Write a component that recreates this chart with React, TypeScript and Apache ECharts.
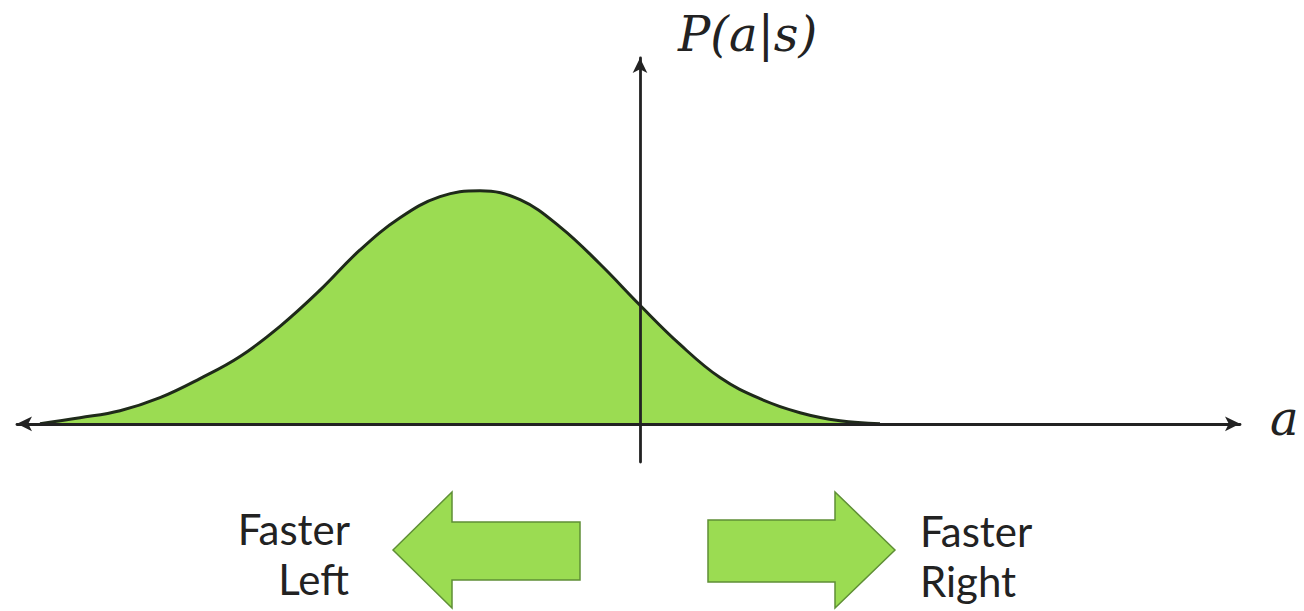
import React, { useEffect, useRef } from "react";
import * as echarts from "echarts";

// Action value a (right is positive) and the policy density P(a|s)
const actionValues = [
  -6.0, -5.6, -5.2, -4.8, -4.4, -4.0, -3.6, -3.2, -2.8, -2.4, -2.0, -1.6, -1.2,
  -0.8, -0.4, 0.0, 0.4, 0.8, 1.2, 1.6, 2.0, 2.4,
];
const densityValues = [
  0.0, 0.06, 0.13, 0.26, 0.45, 0.67, 0.97, 1.33, 1.73, 2.05, 2.26, 2.32, 2.23,
  1.96, 1.59, 1.18, 0.79, 0.46, 0.25, 0.11, 0.03, 0.0,
];

const axisRange = { aMin: -6.23, aMax: 6.0, pMin: -0.38, pMax: 3.64 };
const yAxisTitle = "P(a|s)";
const xAxisTitle = "a";
const leftCaption = ["Faster", "Left"];
const rightCaption = ["Faster", "Right"];

const GREEN = "#9bdc52";
const GREEN_EDGE = "#5f8f36";
const INK = "#222222";

export default function App() {
  const ref = useRef<HTMLDivElement>(null);

  useEffect(() => {
    if (!ref.current) return;
    const chart = echarts.init(ref.current, undefined, { renderer: "svg" });

    const curve = actionValues.map((a, i) => [a, densityValues[i]]);
    const captionFont = "42px Lato, 'Open Sans', sans-serif";
    const mathFont = "italic 48px 'DejaVu Serif', 'Liberation Serif', serif";

    chart.setOption({
      animation: false,
      backgroundColor: "#ffffff",
      grid: { left: 17, right: 64, top: 58, bottom: 149, containLabel: false },
      xAxis: {
        type: "value",
        min: axisRange.aMin,
        max: axisRange.aMax,
        z: 5,
        axisLine: {
          onZero: true,
          symbol: ["arrow", "arrow"],
          symbolSize: [11, 15],
          lineStyle: { color: INK, width: 2.8 },
        },
        axisTick: { show: false },
        axisLabel: { show: false },
        splitLine: { show: false },
      },
      yAxis: {
        type: "value",
        min: axisRange.pMin,
        max: axisRange.pMax,
        z: 5,
        axisLine: {
          show: true,
          onZero: true,
          symbol: ["none", "arrow"],
          symbolSize: [11, 15],
          lineStyle: { color: INK, width: 2.8 },
        },
        axisTick: { show: false },
        axisLabel: { show: false },
        splitLine: { show: false },
      },
      series: [
        {
          type: "line",
          data: curve,
          smooth: 0.4,
          showSymbol: false,
          z: 2,
          lineStyle: { color: "#1f2a1a", width: 3 },
          areaStyle: { color: GREEN, opacity: 1, origin: "auto" },
        },
      ],
      graphic: [
        {
          type: "text",
          style: { text: yAxisTitle, x: 678, y: 34, font: mathFont, fill: INK, textVerticalAlign: "middle" },
        },
        {
          type: "text",
          style: { text: xAxisTitle, x: 1270, y: 418, font: mathFont, fill: INK, textVerticalAlign: "middle" },
        },
        {
          type: "polygon",
          shape: {
            points: [
              [393, 550], [452, 492], [452, 522], [580, 522],
              [580, 580], [452, 580], [452, 608],
            ],
          },
          style: { fill: GREEN, stroke: GREEN_EDGE, lineWidth: 1.5 },
        },
        {
          type: "polygon",
          shape: {
            points: [
              [895, 550], [835, 492], [835, 520], [708, 520],
              [708, 582], [835, 582], [835, 608],
            ],
          },
          style: { fill: GREEN, stroke: GREEN_EDGE, lineWidth: 1.5 },
        },
        {
          type: "text",
          style: { text: leftCaption[0], x: 350, y: 529, font: captionFont, fill: INK, textAlign: "right", textVerticalAlign: "middle" },
        },
        {
          type: "text",
          style: { text: leftCaption[1], x: 349, y: 579, font: captionFont, fill: INK, textAlign: "right", textVerticalAlign: "middle" },
        },
        {
          type: "text",
          style: { text: rightCaption[0], x: 920, y: 531, font: captionFont, fill: INK, textVerticalAlign: "middle" },
        },
        {
          type: "text",
          style: { text: rightCaption[1], x: 920, y: 581, font: captionFont, fill: INK, textVerticalAlign: "middle" },
        },
      ],
    });

    return () => chart.dispose();
  }, []);

  return (
    <div
      ref={ref}
      style={{ position: "fixed", left: 0, top: 0, width: 1304, height: 611, background: "#fff" }}
    />
  );
}
